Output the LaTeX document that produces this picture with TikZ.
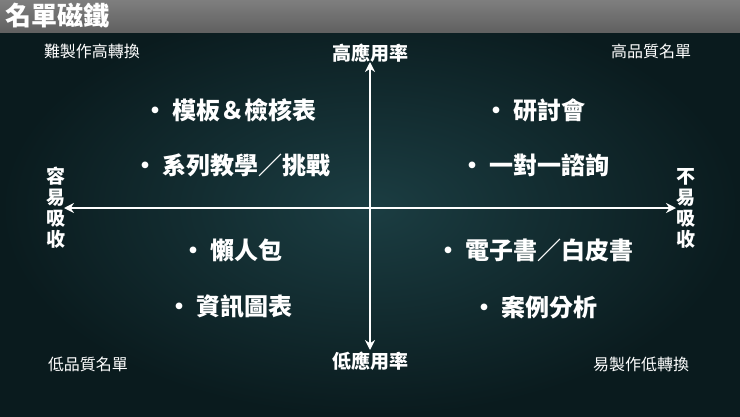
\documentclass[tikz,border=0pt]{standalone}
\usepackage{fontspec}
\setmainfont{Noto Sans CJK TC}
\usetikzlibrary{arrows.meta}
\definecolor{bgc}{HTML}{1B3D42}
\definecolor{bgd}{HTML}{0A1B1E}
\definecolor{barc}{HTML}{8A8A8A}
\tikzset{
  item/.style={text=white,font=\bfseries\fontsize{24}{28}\selectfont,anchor=center},
  corner/.style={text=white,font=\fontsize{16}{19}\selectfont},
  axlab/.style={text=white,font=\bfseries\fontsize{19}{22}\selectfont},
  vlab/.style={text=white,font=\bfseries\fontsize{19}{21}\selectfont,align=center},
  axis/.style={white,line width=2.5pt,{Stealth[length=10pt,width=10pt]}-{Stealth[length=10pt,width=10pt]}}
}
\begin{document}
\begin{tikzpicture}[x=1pt,y=1pt]
\useasboundingbox (0,0) rectangle (740,-416);
\shade[inner color=bgc,outer color=bgd] (0,0) rectangle (740,-416);
\shade[top color=barc!110,bottom color=barc!70!black] (0,0) rectangle (740,-32);
\node[anchor=west,text=white,font=\bfseries\fontsize{26}{28}\selectfont] (title) at (2,-16) {名單磁鐵};
\coordinate (top) at (370,-62);
\coordinate (bot) at (370,-350);
\coordinate (lft) at (64,-208);
\coordinate (rgt) at (676,-208);
\draw[axis] (top) -- (bot);
\draw[axis] (lft) -- (rgt);
\node[axlab] (hi) at (370,-53) {高應用率};
\node[axlab] (lo) at (370,-361) {低應用率};
\node[vlab] (easy) at (56,-208) {容\\易\\吸\\收};
\node[vlab] (hard) at (686,-208) {不\\易\\吸\\收};
\node[corner] (c1) at (92,-51) {難製作高轉換};
\node[corner] (c2) at (651,-51) {高品質名單};
\node[corner] (c3) at (88,-364) {低品質名單};
\node[corner] (c4) at (641,-364) {易製作低轉換};
\node[item] (i1) at (230,-110) {•\ 模板＆檢核表};
\node[item] (i2) at (232,-165) {•\ 系列教學／挑戰};
\node[item] (i3) at (232,-250) {•\ 懶人包};
\node[item] (i4) at (230,-307) {•\ 資訊圖表};
\node[item] (i5) at (535,-110) {•\ 研討會};
\node[item] (i6) at (535,-165) {•\ 一對一諮詢};
\node[item] (i7) at (535,-250) {•\ 電子書／白皮書};
\node[item] (i8) at (535,-307) {•\ 案例分析};
\end{tikzpicture}
\end{document}
